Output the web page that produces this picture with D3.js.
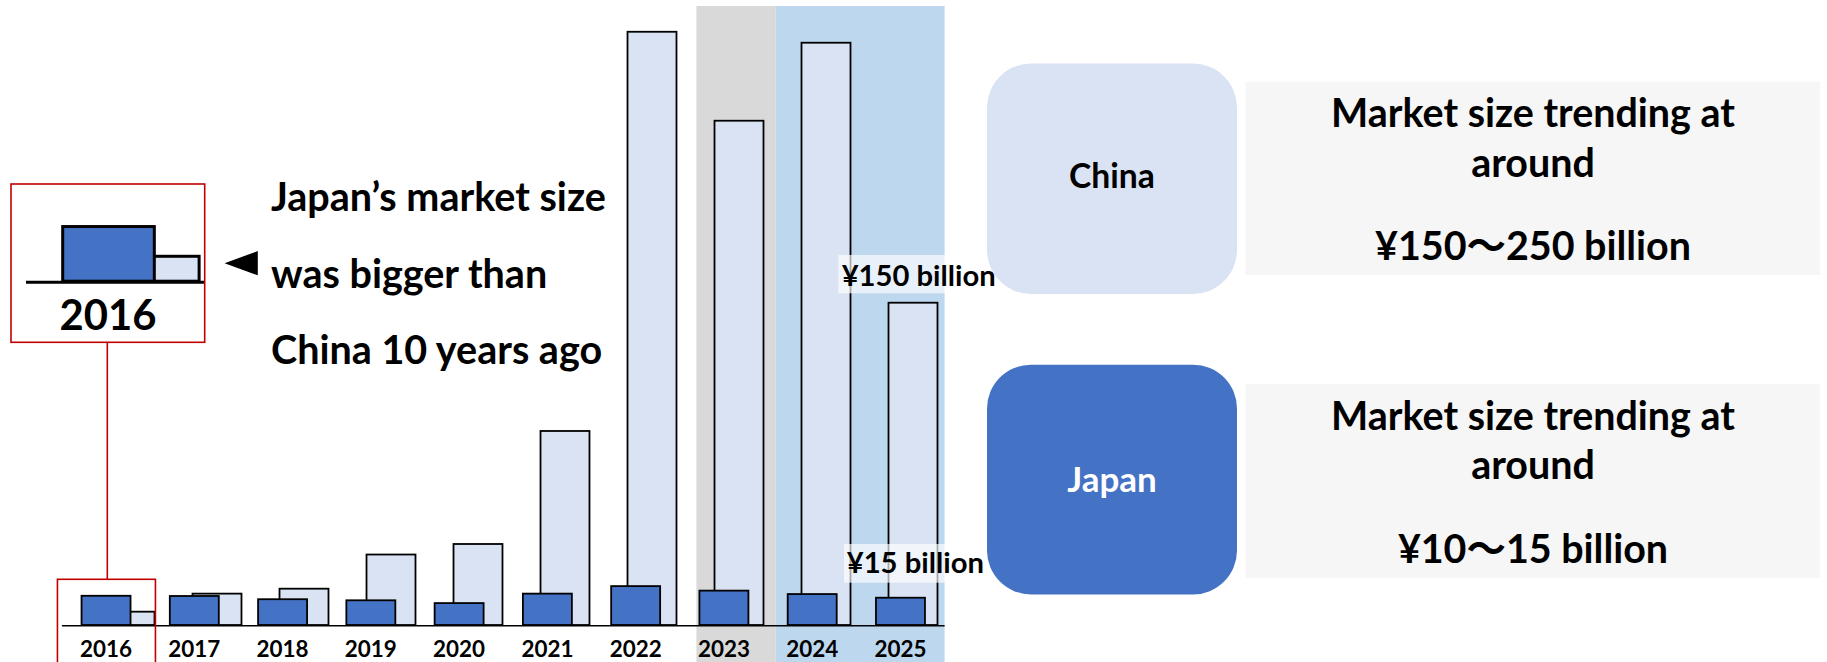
<!DOCTYPE html>
<html>
<head>
<meta charset="utf-8">
<script src="https://cdn.jsdelivr.net/npm/d3@7"></script>
<style>
  html, body { margin: 0; padding: 0; background: #ffffff; }
  svg { display: block; }
  text { font-family: Lato, "Noto Sans", "Noto Sans CJK JP", sans-serif; font-weight: 700; fill: #000; }
</style>
</head>
<body>
<svg id="chart" width="1827" height="662"></svg>
<script>
// ---------------- data ----------------
const years = ["2016", "2017", "2018", "2019", "2020", "2021", "2022", "2023", "2024", "2025"];
// market size, ¥ billion
const chinaValues = [6.2, 14.6, 16.9, 32.8, 37.7, 90.3, 276.1, 234.7, 271.0, 150.0];
const japanValues = [13.6, 13.5, 12.0, 11.5, 10.2, 14.6, 18.1, 16.0, 14.4, 12.7];
const greyYears = ["2023"];
const blueYears = ["2024", "2025"];
const valueLabels = ["¥150 billion", "¥15 billion"];
const noteLines = ["Japan’s market size", "was bigger than", "China 10 years ago"];
const legendNames = ["China", "Japan"];
const trendLines = [
  ["Market size trending at", "around", "¥150～250 billion"],
  ["Market size trending at", "around", "¥10～15 billion"]
];
const insetYear = "2016";

// ---------------- setup ----------------
const svg = d3.select("#chart");
const W = 1827, H = 662;

const xJ = d3.scaleBand().domain(years).range([61.9, 944.6]).paddingInner(0.445).paddingOuter(0.2225);
const xC = d3.scaleBand().domain(years).range([86.5, 956.5]).paddingInner(0.437).paddingOuter(0.2185);
const y = d3.scaleLinear().domain([0, 290]).range([625, 1.9]);
const bw = xJ.bandwidth();

function fitWidth(sel, target) {
  const len = sel.node().getComputedTextLength();
  const fs = parseFloat(sel.attr("font-size"));
  const nfs = fs * target / len;
  sel.attr("font-size", nfs);
  return nfs;
}

// ---------------- shading ----------------
const gShade = svg.append("g");
gShade.append("rect")
  .attr("x", xJ(greyYears[0]) - 3)
  .attr("y", 6)
  .attr("width", (xC(greyYears[0]) + xC.bandwidth() + xJ(blueYears[0])) / 2 - (xJ(greyYears[0]) - 3))
  .attr("height", H - 6)
  .attr("fill", "#d9d9d9");
gShade.append("rect")
  .attr("x", (xC(greyYears[0]) + xC.bandwidth() + xJ(blueYears[0])) / 2)
  .attr("y", 6)
  .attr("width", xJ.range()[1] - (xC(greyYears[0]) + xC.bandwidth() + xJ(blueYears[0])) / 2)
  .attr("height", H - 6)
  .attr("fill", "#bdd7ee");

// ---------------- bars ----------------
const chinaData = years.map((yr, i) => ({ year: yr, v: chinaValues[i] }));
const japanData = years.map((yr, i) => ({ year: yr, v: japanValues[i] }));

function drawBars(g, xs, yScale) {
  g.selectAll("rect.china").data(chinaData).join("rect")
    .attr("class", "china")
    .attr("x", d => xs.c(xC(d.year)))
    .attr("y", d => yScale(y(d.v)))
    .attr("width", xs.w(xC.bandwidth()))
    .attr("height", d => yScale(y(0)) - yScale(y(d.v)))
    .attr("fill", "#dae3f3").attr("stroke", "#000").attr("stroke-width", xs.sw);
  g.selectAll("rect.japan").data(japanData).join("rect")
    .attr("class", "japan")
    .attr("x", d => xs.c(xJ(d.year)))
    .attr("y", d => yScale(y(d.v)))
    .attr("width", xs.w(bw))
    .attr("height", d => yScale(y(0)) - yScale(y(d.v)))
    .attr("fill", "#4472c4").attr("stroke", "#000").attr("stroke-width", xs.sw);
  g.append("line")
    .attr("x1", xs.c(xJ.range()[0])).attr("x2", xs.c(xJ.range()[1]))
    .attr("y1", yScale(y(0)) + xs.sw * 0.4).attr("y2", yScale(y(0)) + xs.sw * 0.4)
    .attr("stroke", "#000").attr("stroke-width", xs.sw * 0.9);
}

const gBars = svg.append("g");
drawBars(gBars, { c: v => v, w: v => v, sw: 1.8 }, v => v);

// year labels
const yearLabels = svg.append("g").selectAll("text").data(years).join("text")
  .attr("x", d => xJ(d) + bw / 2)
  .attr("y", 656.7)
  .attr("text-anchor", "middle")
  .attr("font-size", 20)
  .text(d => d);
{
  const fs = fitWidth(d3.select(yearLabels.nodes()[0]), 52);
  yearLabels.attr("font-size", fs);
}

// value labels with translucent boxes
const vl = [
  { t: valueLabels[0], x: 841.7, yb: 285.7, w: 154, box: [838.3, 255, 160, 38.3] },
  { t: valueLabels[1], x: 846.7, yb: 573.3, w: 137.3, box: [844, 544, 144, 38.7] }
];
vl.forEach(d => {
  svg.append("rect").attr("x", d.box[0]).attr("y", d.box[1]).attr("width", d.box[2]).attr("height", d.box[3])
    .attr("fill", "#ffffff").attr("fill-opacity", 0.66);
  const t = svg.append("text").attr("x", d.x).attr("y", d.yb).attr("font-size", 28).text(d.t);
  fitWidth(t, d.w);
});

// ---------------- red highlight box & inset ----------------
svg.append("rect")
  .attr("x", xJ(insetYear) + bw / 2 - 48.6).attr("y", 579.3)
  .attr("width", 98).attr("height", 120)
  .attr("fill", "none").attr("stroke", "#c00000").attr("stroke-width", 1.6);
svg.append("line")
  .attr("x1", 107.3).attr("x2", 107.3).attr("y1", 342.3).attr("y2", 579.3)
  .attr("stroke", "#c00000").attr("stroke-width", 1.6);

const inset = { x: 11, y: 184, w: 193.7, h: 158.3 };
const defs = svg.append("defs");
defs.append("clipPath").attr("id", "insetClip").append("rect")
  .attr("x", inset.x).attr("y", inset.y).attr("width", inset.w).attr("height", inset.h);
svg.append("rect").attr("x", inset.x).attr("y", inset.y).attr("width", inset.w).attr("height", inset.h)
  .attr("fill", "#ffffff");
const mag = 1.87;
const ix0 = xJ(insetYear), ixT = 62.7, iy0 = y(0), iyT = 281.2;
const gInset = svg.append("g").attr("clip-path", "url(#insetClip)");
const insetChina = chinaData.filter(d => d.year === insetYear);
const insetJapan = japanData.filter(d => d.year === insetYear);
gInset.selectAll("rect.china").data(insetChina).join("rect")
  .attr("x", d => ixT + (xC(d.year) - ix0) * mag)
  .attr("y", d => iyT - (iy0 - y(d.v)) * mag)
  .attr("width", xC.bandwidth() * mag)
  .attr("height", d => (iy0 - y(d.v)) * mag)
  .attr("fill", "#dae3f3").attr("stroke", "#000").attr("stroke-width", 3);
gInset.selectAll("rect.japan").data(insetJapan).join("rect")
  .attr("x", d => ixT + (xJ(d.year) - ix0) * mag)
  .attr("y", d => iyT - (iy0 - y(d.v)) * mag)
  .attr("width", bw * mag)
  .attr("height", d => (iy0 - y(d.v)) * mag)
  .attr("fill", "#4472c4").attr("stroke", "#000").attr("stroke-width", 3);
gInset.append("line")
  .attr("x1", ixT + (xJ.range()[0] - ix0) * mag).attr("x2", inset.x + inset.w)
  .attr("y1", iyT + 1).attr("y2", iyT + 1)
  .attr("stroke", "#000").attr("stroke-width", 3);
svg.append("rect").attr("x", inset.x).attr("y", inset.y).attr("width", inset.w).attr("height", inset.h)
  .attr("fill", "none").attr("stroke", "#c00000").attr("stroke-width", 1.6);
{
  const t = svg.append("text").attr("x", 108).attr("y", 330).attr("text-anchor", "middle")
    .attr("font-size", 34).attr("fill", "#1a1a1a").text(insetYear);
  fitWidth(t, 97);
}

// arrow
svg.append("path")
  .attr("d", d3.line()([[224.6, 263.3], [257.8, 251], [257.8, 275.3]]) + "Z")
  .attr("fill", "#000");

// note text
{
  const base = [211, 288, 364];
  const ts = noteLines.map((l, i) => svg.append("text").attr("x", 271).attr("y", base[i]).attr("font-size", 34).text(l));
  const fs = fitWidth(ts[0], 335);
  ts.forEach(t => t.attr("font-size", fs));
}

// ---------------- right legend panels ----------------
const panels = [
  { name: legendNames[0], fill: "#dae3f3", tc: "#000", top: 63.5, bottom: 294, nameBase: 188.3, nameW: 86, gTop: 81.7, gBot: 275 },
  { name: legendNames[1], fill: "#4472c4", tc: "#fff", top: 364.7, bottom: 594.5, nameBase: 491.7, nameW: 89.5, gTop: 384.3, gBot: 578 }
];
let trendFs = null;
panels.forEach((p, i) => {
  svg.append("rect").attr("x", 1245.6).attr("y", p.gTop).attr("width", 1820 - 1245.6).attr("height", p.gBot - p.gTop)
    .attr("fill", "#f6f6f6");
  svg.append("rect").attr("x", 987).attr("y", p.top).attr("width", 250).attr("height", p.bottom - p.top)
    .attr("rx", 44).attr("ry", 44).attr("fill", p.fill);
  const nt = svg.append("text").attr("x", 1112).attr("y", p.nameBase).attr("text-anchor", "middle")
    .attr("font-size", 28).style("fill", p.tc).text(p.name);
  fitWidth(nt, p.nameW);
  const offs = [45.5, 95, 178.5];
  const ts = trendLines[i].map((l, j) => svg.append("text").attr("x", 1533).attr("y", p.gTop + offs[j])
    .attr("text-anchor", "middle").attr("font-size", 40).text(l));
  if (trendFs === null) trendFs = fitWidth(ts[0], 404);
  ts.forEach(t => t.attr("font-size", trendFs));
});
</script>
</body>
</html>
